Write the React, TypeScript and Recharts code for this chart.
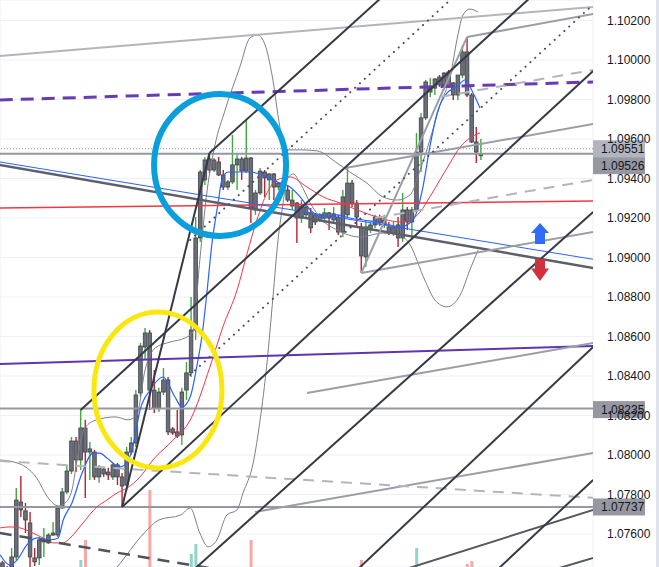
import React from 'react';
import {
  ComposedChart,
  Bar,
  Line,
  XAxis,
  YAxis,
  CartesianGrid,
  ReferenceLine,
  ReferenceDot,
  Cell,
} from 'recharts';

type Seg = [number, number, number, number];
type Pt = [number, number];

// candle index range and price range visible in the picture
const X_DOMAIN: [number, number] = [-0.54, 128.37];
const Y_DOMAIN: [number, number] = [1.07433, 1.10304];

const priceTicks = [
  1.076, 1.078, 1.08, 1.082, 1.084, 1.086, 1.088, 1.09, 1.092, 1.094, 1.096, 1.098, 1.1, 1.102,
];
const timeGrid = [23, 41, 59, 83, 101, 119];

// open, high, low, close
const ohlc: [number, number, number, number][] = [
  [1.07454, 1.07464, 1.07418, 1.07433],
  [1.07428, 1.07438, 1.07378, 1.07398],
  [1.07433, 1.07529, 1.07423, 1.07484],
  [1.07484, 1.07833, 1.07469, 1.07772],
  [1.07762, 1.07894, 1.07686, 1.07722],
  [1.07717, 1.07757, 1.07605, 1.07671],
  [1.07656, 1.07712, 1.07433, 1.07484],
  [1.07479, 1.07529, 1.07438, 1.07459],
  [1.07479, 1.07585, 1.07443, 1.0757],
  [1.0756, 1.07631, 1.07484, 1.0757],
  [1.07555, 1.07605, 1.0755, 1.07595],
  [1.07595, 1.07661, 1.0759, 1.07605],
  [1.07595, 1.07742, 1.07585, 1.07732],
  [1.07732, 1.07833, 1.07727, 1.07813],
  [1.07813, 1.0795, 1.07803, 1.07919],
  [1.07919, 1.08091, 1.07904, 1.08071],
  [1.08071, 1.08091, 1.07914, 1.07975],
  [1.07975, 1.08228, 1.07924, 1.08137],
  [1.08137, 1.08178, 1.07783, 1.08015],
  [1.08015, 1.08066, 1.07874, 1.08031],
  [1.08015, 1.08026, 1.07874, 1.07889],
  [1.07889, 1.0795, 1.07859, 1.0794],
  [1.07929, 1.0794, 1.07889, 1.07904],
  [1.07914, 1.07935, 1.07874, 1.07899],
  [1.07889, 1.0796, 1.07874, 1.0795],
  [1.0795, 1.0796, 1.07848, 1.07889],
  [1.07889, 1.07909, 1.07737, 1.07843],
  [1.07848, 1.08041, 1.07823, 1.08015],
  [1.08015, 1.08091, 1.08, 1.08061],
  [1.08061, 1.08329, 1.08041, 1.08304],
  [1.08314, 1.08567, 1.08294, 1.08552],
  [1.08547, 1.08643, 1.08481, 1.08618],
  [1.08618, 1.08633, 1.08228, 1.08329],
  [1.08329, 1.08431, 1.08213, 1.08238],
  [1.08238, 1.0834, 1.08218, 1.08319],
  [1.08319, 1.08441, 1.08304, 1.0838],
  [1.0838, 1.08395, 1.08102, 1.08117],
  [1.08132, 1.08142, 1.08102, 1.08112],
  [1.08117, 1.08228, 1.08086, 1.08096],
  [1.08102, 1.0834, 1.08051, 1.08319],
  [1.08329, 1.08471, 1.08279, 1.08416],
  [1.08416, 1.088, 1.08395, 1.08633],
  [1.08633, 1.09205, 1.08583, 1.09099],
  [1.09099, 1.09443, 1.09079, 1.09433],
  [1.09393, 1.09509, 1.09367, 1.09494],
  [1.09499, 1.09529, 1.09428, 1.09443],
  [1.09443, 1.09504, 1.09433, 1.09494],
  [1.09484, 1.09509, 1.09413, 1.09418],
  [1.09418, 1.09443, 1.09342, 1.09357],
  [1.09357, 1.09393, 1.09342, 1.09383],
  [1.09383, 1.09621, 1.09372, 1.09469],
  [1.09469, 1.09529, 1.09342, 1.09499],
  [1.09499, 1.09509, 1.09393, 1.09438],
  [1.09438, 1.09696, 1.09428, 1.09504],
  [1.09504, 1.09509, 1.09175, 1.09251],
  [1.09241, 1.09342, 1.09216, 1.09327],
  [1.09327, 1.09453, 1.09317, 1.09438],
  [1.09433, 1.09443, 1.09307, 1.09403],
  [1.09393, 1.09428, 1.09291, 1.09423],
  [1.09423, 1.09428, 1.09291, 1.09357],
  [1.09357, 1.09383, 1.09342, 1.09377],
  [1.09383, 1.09393, 1.09332, 1.09342],
  [1.09342, 1.09367, 1.09281, 1.09291],
  [1.09261, 1.09342, 1.09241, 1.09291],
  [1.09276, 1.09281, 1.09074, 1.092],
  [1.092, 1.09291, 1.09175, 1.09261],
  [1.09216, 1.09266, 1.092, 1.09256],
  [1.09226, 1.09251, 1.09124, 1.0915],
  [1.09216, 1.09226, 1.09165, 1.0918],
  [1.0919, 1.09226, 1.0918, 1.09216],
  [1.092, 1.09251, 1.09175, 1.09226],
  [1.09226, 1.09231, 1.0914, 1.092],
  [1.0919, 1.09256, 1.09175, 1.09221],
  [1.09205, 1.09216, 1.09114, 1.09129],
  [1.09129, 1.09342, 1.09104, 1.09307],
  [1.09216, 1.09458, 1.09205, 1.09377],
  [1.09377, 1.09393, 1.09256, 1.09276],
  [1.09276, 1.09291, 1.09155, 1.09205],
  [1.09155, 1.09175, 1.08922, 1.09008],
  [1.09003, 1.0919, 1.08952, 1.09155],
  [1.0914, 1.0918, 1.09124, 1.09165],
  [1.09165, 1.09216, 1.0915, 1.09205],
  [1.092, 1.09216, 1.0916, 1.09175],
  [1.09165, 1.09216, 1.0915, 1.0919],
  [1.09155, 1.0918, 1.09114, 1.09124],
  [1.09124, 1.0918, 1.09109, 1.09155],
  [1.09165, 1.09205, 1.09053, 1.09099],
  [1.09099, 1.09327, 1.09079, 1.09241],
  [1.09241, 1.09256, 1.0914, 1.0918],
  [1.0918, 1.09256, 1.09089, 1.09241],
  [1.09241, 1.09631, 1.09231, 1.09534],
  [1.09534, 1.09732, 1.09433, 1.09707],
  [1.09707, 1.09899, 1.09696, 1.09889],
  [1.09838, 1.09909, 1.09813, 1.09858],
  [1.09858, 1.09909, 1.09823, 1.09904],
  [1.09914, 1.09924, 1.09864, 1.09874],
  [1.09874, 1.0994, 1.09848, 1.09934],
  [1.0994, 1.0995, 1.09858, 1.09869],
  [1.09884, 1.09889, 1.09798, 1.09823],
  [1.09823, 1.09924, 1.09798, 1.09924],
  [1.09924, 1.10076, 1.09909, 1.10041],
  [1.10041, 1.10117, 1.09813, 1.09823],
  [1.09823, 1.09833, 1.0958, 1.09585],
  [1.09585, 1.09661, 1.09479, 1.09534],
  [1.09515, 1.096, 1.09494, 1.09526],
];

// only the tallest volume bars reach into the visible area
const volumes: Pt[] = [
  [17, 938], [18, 1333], [32, 2321], [41, 1057], [42, 1254],
  [54, 1333], [78, 938], [90, 1175], [101, 859], [102, 919],
];

const upperBand: Pt[] = [
  [-0.5, 1.07975], [3.8, 1.07955], [7.1, 1.07894], [10.3, 1.07772], [12.1, 1.07742],
  [13.6, 1.07757], [15.1, 1.07823], [16.4, 1.08], [17.9, 1.08137], [20.5, 1.08178],
  [24.5, 1.08193], [27.3, 1.08178], [29.2, 1.08203], [31.0, 1.08431], [33.2, 1.08542],
  [36.4, 1.08572], [39.7, 1.08593], [41.4, 1.08623], [42.9, 1.08988], [44.5, 1.09342],
  [46.2, 1.0957], [48.4, 1.09747], [51.6, 1.09965], [53.8, 1.10112], [55.5, 1.10127],
  [57.1, 1.10076], [58.6, 1.09924], [60.3, 1.09661], [61.4, 1.09545], [64.7, 1.09545],
  [68.4, 1.0954], [72.7, 1.09479], [75.5, 1.09433], [79.2, 1.09377], [82.7, 1.09307],
  [85.8, 1.09291], [88.6, 1.09317], [90.8, 1.09443], [92.9, 1.09595], [95.1, 1.09772],
  [97.3, 1.09914], [99.0, 1.10127], [100.1, 1.10228], [101.6, 1.10258], [103.4, 1.10243],
];

const lowerBand: Pt[] = [
  [22.3, 1.07368], [24.9, 1.07433], [30.8, 1.07605], [34.0, 1.07671], [38.8, 1.07697],
  [40.8, 1.07732], [42.9, 1.07605], [44.7, 1.07535], [46.6, 1.0757], [48.8, 1.07697],
  [51.0, 1.07722], [52.3, 1.07808], [54.5, 1.0796], [56.0, 1.08177], [57.5, 1.08466],
  [58.8, 1.088], [59.9, 1.09089], [61.0, 1.09276], [61.8, 1.09393], [63.2, 1.09423],
  [64.7, 1.09377], [66.9, 1.09276], [69.5, 1.0919], [72.7, 1.0914], [77.7, 1.09104],
  [82.7, 1.09124], [86.4, 1.09114], [88.6, 1.09064], [91.8, 1.08886], [94.0, 1.08785],
  [96.6, 1.0875], [99.5, 1.0881], [101.6, 1.08937], [103.4, 1.09038],
];

const fastMa: Pt[] = [
  [-0.5, 1.07494], [1.6, 1.07443], [3.2, 1.07469], [5.3, 1.07545], [7.5, 1.0758],
  [10.3, 1.0757], [12.1, 1.0758], [13.2, 1.07671], [15.1, 1.07757], [17.3, 1.07909],
  [19.7, 1.0801], [21.2, 1.0801], [22.7, 1.07985], [25.5, 1.0794], [27.1, 1.0796],
  [28.4, 1.08051], [29.9, 1.08228], [32.1, 1.08329], [34.9, 1.08395], [37.5, 1.08294],
  [39.0, 1.08243], [40.8, 1.08294], [42.3, 1.08456], [43.4, 1.08608], [44.5, 1.08836],
  [45.5, 1.09064], [46.8, 1.09266], [47.7, 1.09393], [49.0, 1.09433], [53.8, 1.09433],
  [57.5, 1.09408], [60.3, 1.09377], [62.5, 1.09357], [64.7, 1.09307], [66.9, 1.09241],
  [69.7, 1.092], [72.7, 1.09216], [75.5, 1.092], [78.4, 1.0919], [82.7, 1.09175],
  [86.4, 1.09155], [89.2, 1.0919], [91.4, 1.09357], [92.9, 1.0956], [94.5, 1.09732],
  [96.6, 1.09833], [98.8, 1.09864], [100.5, 1.09899], [102.3, 1.09833], [103.8, 1.09757],
];

const slowMa: Pt[] = [
  [-0.5, 1.07631], [1.6, 1.07636], [3.8, 1.07631], [6.6, 1.07605], [8.8, 1.0758],
  [11.0, 1.07555], [13.2, 1.07555], [14.7, 1.0758], [17.5, 1.07656], [20.5, 1.07737],
  [22.7, 1.07772], [24.9, 1.07808], [27.1, 1.07833], [29.9, 1.07889], [32.7, 1.07975],
  [37.1, 1.08076], [40.8, 1.08177], [45.1, 1.08446], [47.9, 1.08648], [51.0, 1.08836],
  [53.2, 1.09023], [55.3, 1.0919], [57.5, 1.09327], [59.7, 1.09393], [62.5, 1.09408],
  [66.2, 1.09357], [69.7, 1.09307], [73.4, 1.09276], [77.1, 1.09241], [81.4, 1.09205],
  [86.4, 1.0918], [88.6, 1.0919], [90.8, 1.09231], [92.9, 1.09307], [95.1, 1.09393],
  [97.3, 1.09479], [99.5, 1.0956], [101.6, 1.09605], [103.8, 1.09631],
];

// drawings: [index1, price1, index2, price2]
const blackLines: Seg[] = [
  [26, 1.07737, 45, 1.09529],
  [45, 1.09529, 128.4, 1.11286],
  [17, 1.08228, 128.4, 1.10608],
  [26, 1.07737, 128.4, 1.09945],
  [38.6, 1.07357, 128.4, 1.09231],
  [73.4, 1.07337, 128.4, 1.08547],
  [103.8, 1.07337, 128.4, 1.07874],
];
const dottedLines: Seg[] = [
  [40.8, 1.09089, 128.4, 1.10972],
  [40.8, 1.08406, 128.4, 1.10281],
];
const grayLines: Seg[] = [
  [78, 1.08922, 101, 1.10117],
  [101, 1.10117, 128.4, 1.10233],
  [78, 1.08922, 128.4, 1.09129],
  [74.5, 1.09453, 128.4, 1.09676],
  [66.2, 1.08314, 128.4, 1.08567],
  [54.9, 1.07712, 128.4, 1.0801],
];
const lightGrayLines: Seg[] = [[-0.6, 1.1002, 128.4, 1.10269]];
const darkGrayLines: Seg[] = [
  [86.4, 1.07413, 128.4, 1.07722],
  [117.9, 1.07406, 128.4, 1.07479],
];
const dashedGrayLines: Seg[] = [
  [95.1, 1.09813, 128.4, 1.0995],
  [81, 1.092, 128.4, 1.09393],
  [-0.6, 1.0797, 128.4, 1.07783],
];
const darkDashedLines: Seg[] = [[-0.6, 1.07605, 47.3, 1.07418]];
const purpleDashed: Seg = [-0.6, 1.09798, 128.4, 1.09889];
const purpleSolid: Seg = [-0.6, 1.08461, 128.4, 1.08552];
const redRay: Seg = [-0.6, 1.09251, 128.4, 1.09286];
const blueRay: Seg = [-0.6, 1.09484, 128.4, 1.08991];
const darkRay: Seg = [-0.6, 1.09469, 128.4, 1.08947];

const LAST_PRICE = 1.09526;
const PREV_PRICE = 1.09551;
const LEVEL_MID = 1.08235;
const LEVEL_LOW = 1.07737;

const blueRing = { i: 47.3, p: 1.09469 };
const yellowRing = { i: 33.8, p: 1.08329 };
const upArrow = { i: 116.85, p: 1.09122 };
const downArrow = { i: 116.85, p: 1.08937 };

const FONT = '"Liberation Sans", Arial, sans-serif';

const volMap = new Map(volumes.map(([i, v]) => [i, v]));
const rows = ohlc.map(([o, h, l, c], i) => ({ i, o, h, l, c, range: [l, h], v: volMap.get(i) }));
const pts = (arr: Pt[]) => arr.map(([i, p]) => ({ i, p }));
const seg = ([a, b, c, d]: Seg) => [{ x: a, y: b }, { x: c, y: d }];

const Candle = (props: any) => {
  const { x, y, width, height, payload } = props;
  if (!payload || height == null || isNaN(y)) return null;
  const { o, h, l, c } = payload;
  const top = Math.min(y, y + height);
  const span = Math.abs(height);
  const k = span / (h - l);
  const py = (v: number) => top + (h - v) * k;
  const cx = x + width / 2;
  const up = c >= o;
  const bTop = py(Math.max(o, c));
  const bH = Math.max(1.2, py(Math.min(o, c)) - bTop);
  return (
    <g>
      <line x1={cx} x2={cx} y1={top} y2={top + span} stroke={up ? '#3fa83f' : '#b8232f'} strokeWidth={1.4} />
      <rect x={cx - 1.8} y={bTop} width={3.6} height={bH} fill="#6c6f78" stroke="#3e4149" strokeWidth={0.8} />
    </g>
  );
};

const priceTag = (value: number, bg: string, dy: number) => (props: any) => {
  const vb = props.viewBox || {};
  const x = (vb.x || 0) + (vb.width || 0);
  const y = (vb.y || 0) + dy;
  return (
    <g>
      <rect x={x} y={y - 8.5} width={52} height={17} fill={bg} />
      <text x={x + 8} y={y} dy={4.3} fontSize={12} fontFamily={FONT} fill="#131722">
        {value.toFixed(5)}
      </text>
    </g>
  );
};

const lineProps = {
  dataKey: 'p',
  type: 'monotone' as const,
  dot: false,
  activeDot: false,
  isAnimationActive: false,
};

const App: React.FC = () => {
  return (
    <div style={{ position: 'absolute', left: 0, top: 0, width: 659, height: 567, background: '#ffffff', overflow: 'hidden' }}>
      <ComposedChart width={659} height={567} data={rows} margin={{ top: 0, right: 0, bottom: 0, left: 0 }}>
        <CartesianGrid stroke="#eef0f4" />
        <XAxis
          dataKey="i"
          type="number"
          domain={X_DOMAIN}
          allowDataOverflow
          ticks={timeGrid}
          height={0}
          tick={false}
          axisLine={false}
          tickLine={false}
        />
        <XAxis xAxisId="vol" dataKey="i" type="number" domain={X_DOMAIN} allowDataOverflow hide />
        <YAxis
          orientation="right"
          domain={Y_DOMAIN}
          allowDataOverflow
          ticks={priceTicks}
          interval={0}
          width={66}
          axisLine={false}
          tickLine={false}
          tickMargin={8}
          tickFormatter={(v: number) => v.toFixed(5)}
          tick={{ fontSize: 12, fill: '#131722', fontFamily: FONT }}
        />
        <YAxis yAxisId="vol" domain={[800, 12000]} allowDataOverflow hide />

        <Bar xAxisId="vol" yAxisId="vol" dataKey="v" barSize={3} isAnimationActive={false}>
          {rows.map((r) => (
            <Cell key={`v-${r.i}`} fill={r.c >= r.o ? '#8fd3c9' : '#f7a8a6'} />
          ))}
        </Bar>

        <ReferenceLine y={PREV_PRICE} stroke="#9598a1" strokeDasharray="1 2" label={priceTag(PREV_PRICE, '#b2b5be', 0)} />
        <ReferenceLine y={LAST_PRICE} stroke="#9598a1" strokeWidth={2} label={priceTag(LAST_PRICE, '#9598a1', 12)} />
        <ReferenceLine y={LEVEL_MID} stroke="#9598a1" strokeWidth={2} label={priceTag(LEVEL_MID, '#9598a1', 1)} />
        <ReferenceLine y={LEVEL_LOW} stroke="#9598a1" strokeWidth={2} label={priceTag(LEVEL_LOW, '#9598a1', 0)} />

        <Bar dataKey="range" barSize={4} shape={<Candle />} isAnimationActive={false} />

        <Line {...lineProps} data={pts(upperBand)} stroke="#7d808a" strokeWidth={1} />
        <Line {...lineProps} data={pts(lowerBand)} stroke="#7d808a" strokeWidth={1} />
        <Line {...lineProps} data={pts(slowMa)} stroke="#f23645" strokeWidth={1} />
        <Line {...lineProps} data={pts(fastMa)} stroke="#2962ff" strokeWidth={1.2} />

        <ReferenceLine segment={seg(redRay)} stroke="#f23645" strokeWidth={1.5} ifOverflow="hidden" />
        <ReferenceLine segment={seg(darkRay)} stroke="#5d606b" strokeWidth={2.5} ifOverflow="hidden" />
        <ReferenceLine segment={seg(blueRay)} stroke="#2962ff" strokeWidth={1} ifOverflow="hidden" />
        <ReferenceLine segment={seg(purpleDashed)} stroke="#673ab7" strokeWidth={3} strokeDasharray="13 8" ifOverflow="hidden" />
        <ReferenceLine segment={seg(purpleSolid)} stroke="#5e35b1" strokeWidth={2} ifOverflow="hidden" />
        {lightGrayLines.map((s, k) => (
          <ReferenceLine key={`lg${k}`} segment={seg(s)} stroke="#b2b5be" strokeWidth={2} ifOverflow="hidden" />
        ))}
        {grayLines.map((s, k) => (
          <ReferenceLine key={`g${k}`} segment={seg(s)} stroke="#9b9ea7" strokeWidth={2} ifOverflow="hidden" />
        ))}
        {darkGrayLines.map((s, k) => (
          <ReferenceLine key={`dg${k}`} segment={seg(s)} stroke="#555862" strokeWidth={2} ifOverflow="hidden" />
        ))}
        {dashedGrayLines.map((s, k) => (
          <ReferenceLine key={`dsh${k}`} segment={seg(s)} stroke="#b2b5be" strokeWidth={2} strokeDasharray="11 8" ifOverflow="hidden" />
        ))}
        {darkDashedLines.map((s, k) => (
          <ReferenceLine key={`dd${k}`} segment={seg(s)} stroke="#50535e" strokeWidth={2.5} strokeDasharray="12 8" ifOverflow="hidden" />
        ))}
        {blackLines.map((s, k) => (
          <ReferenceLine key={`bl${k}`} segment={seg(s)} stroke="#363a45" strokeWidth={2} ifOverflow="hidden" />
        ))}
        {dottedLines.map((s, k) => (
          <ReferenceLine key={`dt${k}`} segment={seg(s)} stroke="#4a4d57" strokeWidth={2} strokeDasharray="0.1 6.5" strokeLinecap="round" ifOverflow="hidden" />
        ))}

        <ReferenceDot
          x={blueRing.i}
          y={blueRing.p}
          r={70}
          shape={(p: any) => <ellipse cx={p.cx} cy={p.cy} rx={66} ry={71} fill="none" stroke="#0a9fdc" strokeWidth={6} />}
        />
        <ReferenceDot
          x={yellowRing.i}
          y={yellowRing.p}
          r={70}
          shape={(p: any) => <ellipse cx={p.cx} cy={p.cy} rx={64} ry={78} fill="none" stroke="#f9e70d" strokeWidth={5} />}
        />
        <ReferenceDot
          x={upArrow.i}
          y={upArrow.p}
          r={10}
          shape={(p: any) => (
            <path
              d={`M${p.cx},${p.cy - 10.5} L${p.cx + 9},${p.cy - 0.5} L${p.cx + 5},${p.cy - 0.5} L${p.cx + 5},${p.cy + 10.5} L${p.cx - 5},${p.cy + 10.5} L${p.cx - 5},${p.cy - 0.5} L${p.cx - 9},${p.cy - 0.5} Z`}
              fill="#2f6bff"
            />
          )}
        />
        <ReferenceDot
          x={downArrow.i}
          y={downArrow.p}
          r={10}
          shape={(p: any) => (
            <path
              d={`M${p.cx - 5},${p.cy - 11} L${p.cx + 5},${p.cy - 11} L${p.cx + 5},${p.cy - 1.5} L${p.cx + 9},${p.cy - 1.5} L${p.cx},${p.cy + 11} L${p.cx - 9},${p.cy - 1.5} L${p.cx - 5},${p.cy - 1.5} Z`}
              fill="#d1313d"
            />
          )}
        />
      </ComposedChart>
      <div style={{ position: 'absolute', left: 656, top: 0, width: 3, height: 567, background: '#e0e3eb' }} />
    </div>
  );
};

export default App;
